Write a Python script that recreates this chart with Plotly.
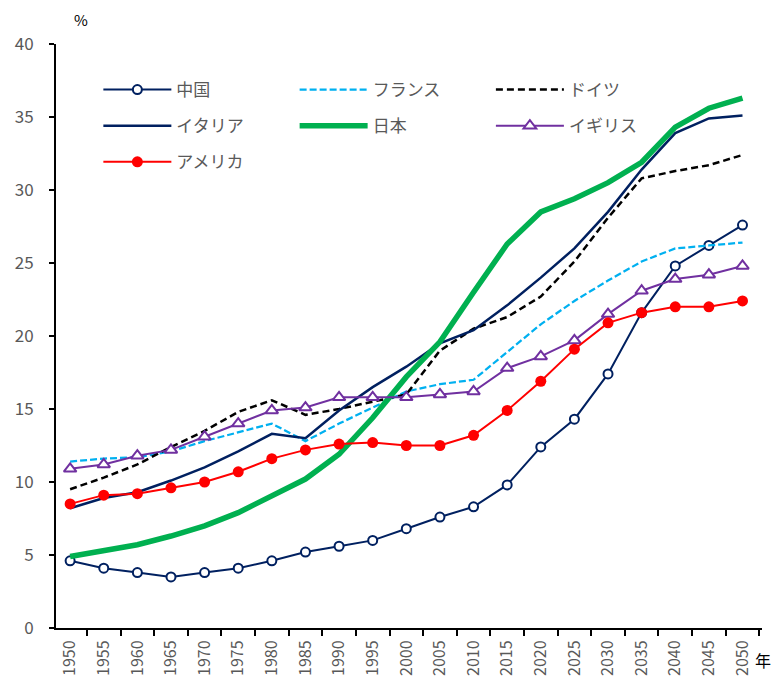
import plotly.graph_objects as go

# 65歳以上人口の割合（%）
years = ["1950", "1955", "1960", "1965", "1970", "1975", "1980", "1985", "1990", "1995",
         "2000", "2005", "2010", "2015", "2020", "2025", "2030", "2035", "2040", "2045", "2050"]

china = [4.6, 4.1, 3.8, 3.5, 3.8, 4.1, 4.6, 5.2, 5.6, 6.0,
         6.8, 7.6, 8.3, 9.8, 12.4, 14.3, 17.4, 21.6, 24.8, 26.2, 27.6]
france = [11.4, 11.6, 11.7, 12.1, 12.8, 13.4, 14.0, 12.8, 14.0, 15.1,
          16.2, 16.7, 17.0, 18.9, 20.8, 22.4, 23.8, 25.1, 26.0, 26.2, 26.4]
germany = [9.5, 10.3, 11.2, 12.4, 13.5, 14.8, 15.6, 14.6, 15.0, 15.5,
           16.0, 19.0, 20.5, 21.3, 22.7, 25.1, 28.1, 30.8, 31.3, 31.7, 32.4]
italy = [8.2, 8.9, 9.3, 10.1, 11.0, 12.1, 13.3, 13.0, 14.9, 16.5,
         17.9, 19.5, 20.4, 22.1, 24.0, 26.0, 28.5, 31.4, 33.9, 34.9, 35.1]
japan = [4.9, 5.3, 5.7, 6.3, 7.0, 7.9, 9.0, 10.2, 11.9, 14.4,
         17.2, 19.6, 23.0, 26.3, 28.5, 29.4, 30.5, 31.9, 34.3, 35.6, 36.3]
uk = [10.9, 11.2, 11.8, 12.2, 13.1, 14.0, 14.9, 15.1, 15.8, 15.8,
      15.8, 16.0, 16.2, 17.8, 18.6, 19.7, 21.5, 23.1, 23.9, 24.2, 24.8]
usa = [8.5, 9.1, 9.2, 9.6, 10.0, 10.7, 11.6, 12.2, 12.6, 12.7,
       12.5, 12.5, 13.2, 14.9, 16.9, 19.1, 20.9, 21.6, 22.0, 22.0, 22.4]

JP_FONT = "Noto Sans CJK JP"
GRAY = "#595959"

fig = go.Figure()

fig.add_trace(go.Scatter(
    x=years, y=china, name="中国", mode="lines+markers", legend="legend", legendgroup="cn",
    line=dict(color="#002060", width=2),
    marker=dict(symbol="circle", size=9, color="white", line=dict(color="#002060", width=2)),
))
fig.add_trace(go.Scatter(
    x=years, y=france, name="フランス", mode="lines", legend="legend2", legendgroup="fr",
    line=dict(color="#00B0F0", width=2.25, dash="7px,3px"),
))
fig.add_trace(go.Scatter(
    x=years, y=germany, name="ドイツ", mode="lines", legend="legend3", legendgroup="de",
    line=dict(color="#000000", width=2.5, dash="7px,4px"),
))
fig.add_trace(go.Scatter(
    x=years, y=italy, name="イタリア", mode="lines", legend="legend", legendgroup="it",
    line=dict(color="#002060", width=2.5),
))
fig.add_trace(go.Scatter(
    x=years, y=japan, name="日本", mode="lines", legend="legend2", legendgroup="jp",
    line=dict(color="#00B050", width=5.5),
))
fig.add_trace(go.Scatter(
    x=years, y=uk, name="イギリス", mode="lines+markers", legend="legend3", legendgroup="uk",
    line=dict(color="#7030A0", width=2),
    marker=dict(symbol="triangle-up", size=11, color="white", line=dict(color="#7030A0", width=2)),
))
fig.add_trace(go.Scatter(
    x=years, y=usa, name="アメリカ", mode="lines+markers", legend="legend", legendgroup="us",
    line=dict(color="#FF0000", width=2),
    marker=dict(symbol="circle", size=11, color="#FF0000"),
))

legend_common = dict(
    xanchor="left", yanchor="top", y=0.952,
    bgcolor="rgba(0,0,0,0)", borderwidth=0,
    font=dict(family=JP_FONT, size=17, color=GRAY),
    itemwidth=68, tracegroupgap=11, traceorder="grouped",
)

fig.update_layout(
    width=772, height=677,
    margin=dict(l=56, r=10, t=44, b=49),
    paper_bgcolor="white", plot_bgcolor="white",
    font=dict(family=JP_FONT, color=GRAY),
    legend=dict(x=0.06, **legend_common),
    legend2=dict(x=0.338, **legend_common),
    legend3=dict(x=0.616, **legend_common),
    xaxis=dict(
        type="category", range=[-0.42, 20.58], automargin=False,
        tickson="boundaries", ticks="outside", ticklen=6, tickwidth=2, tickcolor="black",
        showline=True, linecolor="black", linewidth=2,
        showgrid=False, tickangle=-90, ticklabelstandoff=4,
        tickfont=dict(family=JP_FONT, size=16, color=GRAY),
    ),
    yaxis=dict(
        range=[0, 40], dtick=5, tick0=0, automargin=False,
        ticks="outside", ticklen=5, tickwidth=2, tickcolor="black",
        showline=True, linecolor="black", linewidth=2,
        showgrid=False, zeroline=False,
        ticklabelstandoff=12,
        tickfont=dict(family=JP_FONT, size=17, color=GRAY),
    ),
    annotations=[
        dict(text="%", xref="paper", yref="paper", x=0.036, y=1.02, yanchor="bottom",
             xanchor="center", showarrow=False,
             font=dict(family=JP_FONT, size=15, color="black")),
        dict(text="年", xref="paper", yref="paper", x=1.0015, y=-0.055, yanchor="middle",
             xanchor="center", showarrow=False,
             font=dict(family=JP_FONT, size=16, color="black")),
    ],
)

fig.write_html("out.html")
